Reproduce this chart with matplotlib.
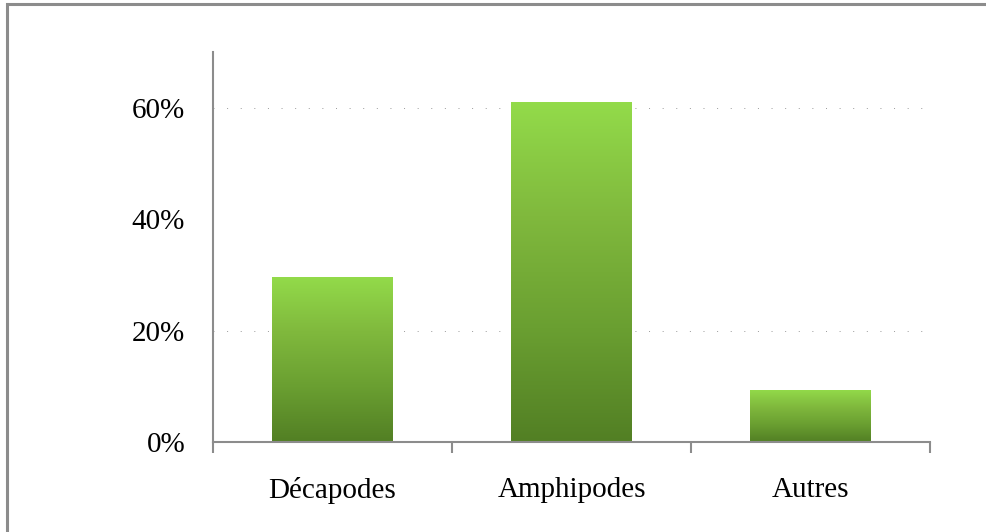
import numpy as np
import matplotlib.pyplot as plt
from matplotlib.colors import LinearSegmentedColormap
from matplotlib.patches import Rectangle

categories = ["Décapodes", "Amphipodes", "Autres"]
values = [29.7, 61.0, 9.4]          # percent
y_ticks = [0, 20, 40, 60]
y_tick_labels = ["0%", "20%", "40%", "60%"]

plt.rcParams["font.family"] = ["Liberation Serif", "DejaVu Serif"]

fig = plt.figure(figsize=(9.87, 5.32), dpi=100)
ax = fig.add_axes([0.2158, 0.1692, 0.7264, 0.7331])

# grey frame round the chart (only left/top fall inside the picture)
fig.patches.append(Rectangle((0.0075, -0.05), 1.2, 1.0425, transform=fig.transFigure,
                             fill=False, edgecolor="#8c8c8c", linewidth=2.2))

green = LinearSegmentedColormap.from_list("g", ["#527f24", "#6a9f31", "#80b93d", "#93db4a"])
grad = np.linspace(0, 1, 256).reshape(-1, 1)

x = np.arange(len(categories))
bars = ax.bar(x, values, width=0.505, color="none", edgecolor="none", zorder=2)
for b in bars:
    x0, w, h = b.get_x(), b.get_width(), b.get_height()
    im = ax.imshow(grad, cmap=green, origin="lower", aspect="auto",
                   extent=[x0, x0 + w, 0, h], zorder=2)
    im.set_clip_path(b)

# faint, sparse dotted gridlines as in the reference
for gy in [20, 60]:
    ax.axhline(gy, color="#9a9a9a", linewidth=0.7, linestyle=(0, (1, 13)), zorder=1)

ax.set_xlim(-0.5, len(categories) - 0.5)
ax.set_ylim(0, 70)
ax.set_yticks(y_ticks)
ax.set_yticklabels(y_tick_labels, fontsize=21)
ax.set_xticks(x)
ax.set_xticklabels(categories, fontsize=21)
ax.set_xticks(np.arange(len(categories) + 1) - 0.5, minor=True)
ax.tick_params(axis="x", which="major", length=0, pad=25)
ax.tick_params(axis="x", which="minor", length=8, width=1.5, color="#8c8c8c")
ax.tick_params(axis="y", length=0, pad=20)

for s in ["top", "right"]:
    ax.spines[s].set_visible(False)
for s in ["left", "bottom"]:
    ax.spines[s].set_color("#8c8c8c")
    ax.spines[s].set_linewidth(1.5)

fig.savefig("out.png", dpi=100)
